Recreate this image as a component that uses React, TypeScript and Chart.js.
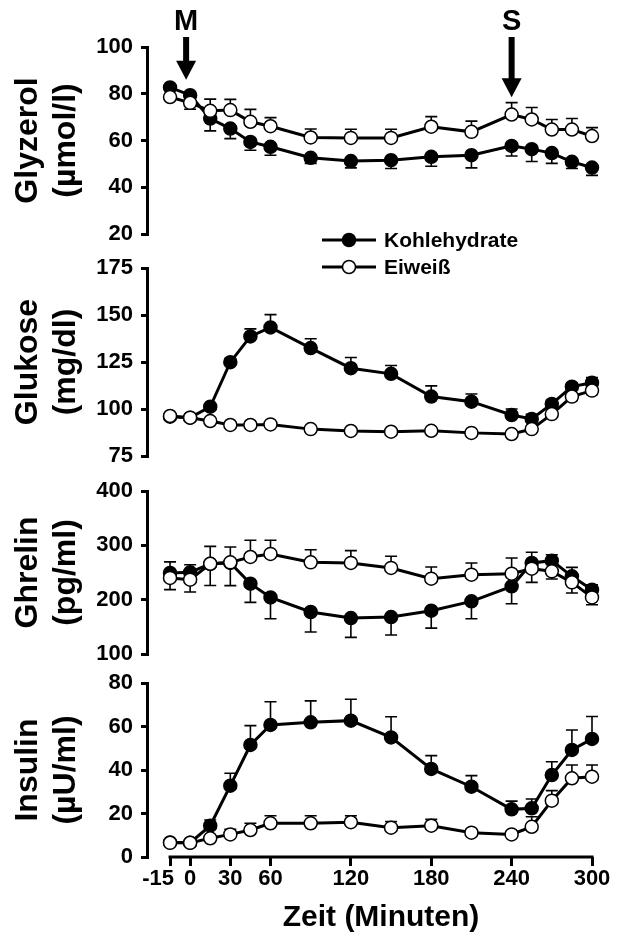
import React, { useEffect, useRef } from 'react';
import { Chart, registerables } from 'chart.js';

Chart.register(...registerables);

const FONT = "'Liberation Sans', Arial, Helvetica, sans-serif";
Chart.defaults.font.family = FONT;

// ---------------- DATA ----------------
const timeMinutes = [-15, 0, 15, 30, 45, 60, 90, 120, 150, 180, 210, 240, 255, 270, 285, 300];
const xTickValues = [-15, 0, 30, 60, 120, 180, 240, 300];
const seriesLabels = ['Kohlehydrate', 'Eiweiß'];
const xAxisTitle = 'Zeit (Minuten)';

// error values (SEM): positive = bar drawn upward, negative = bar drawn downward
const glyzerolKH = [82.7, 79.4, 69.4, 65.1, 59.4, 57.3, 52.6, 51.2, 51.6, 53.0, 53.7, 57.7, 56.3, 54.6, 50.9, 48.4];
const glyzerolKHErr = [0, -1, -5.3, -4.3, -3.6, -3.6, -2.4, -2.9, -3.6, -4, -5.4, -4.3, -5.3, -4.4, -2.9, -3.3];
const glyzerolEW = [78.6, 76.1, 72.7, 73.0, 68.0, 66.1, 61.3, 61.1, 61.1, 65.9, 63.7, 71.1, 69.0, 64.7, 64.7, 61.9];
const glyzerolEWErr = [0, -2.7, 5, 4.6, 5.3, 3.7, 3.6, 3.7, 3.7, 4.3, 4.6, 5.1, 5.1, 4.3, 4.7, 3.6];

const glukoseKH = [95.9, 95.4, 101.2, 124.9, 138.6, 143.4, 132.4, 121.7, 118.7, 106.6, 103.9, 96.8, 94.7, 102.7, 111.9, 114.0];
const glukoseKHErr = [0, 0, 1, 2, 4, 6.8, 5, 5.7, 4.4, 5.7, 4.1, 3.2, 2.5, 2, 2, 2.7];
const glukoseEW = [96.3, 95.4, 93.6, 91.5, 91.5, 91.8, 89.3, 88.3, 87.9, 88.4, 87.3, 86.7, 89.3, 97.3, 106.6, 109.8];
const glukoseEWErr = [-1, -1, -1, -1, -1, -1, -1, -1, -1, -1, -1, -1, -1.5, -1.5, -2, -2];

const ghrelinKH = [249.2, 250.3, 266.0, 267.6, 229.5, 204.2, 177.3, 166.2, 168.0, 179.7, 196.9, 224.5, 267.6, 271.8, 242.9, 218.4];
const ghrelinKHErr = [20.4, 14, -40, -41.8, -34.4, -39.3, -36.8, -35.6, -33.1, -32, -32, -31.9, 19.6, 11, 16.6, 9];
const ghrelinEW = [240.0, 236.8, 266.0, 268.7, 278.6, 284.2, 268.7, 267.6, 258.4, 238.7, 246.0, 247.9, 257.1, 252.1, 231.9, 204.2];
const ghrelinEWErr = [-21.5, -22.7, 32, 28.2, 30.7, 25.2, 23.3, 22.6, 21.5, 21.5, 21.5, 28.8, -25.2, -14, -19.6, -13.5];

const insulinKH = [6.7, 6.6, 14.4, 32.8, 51.5, 60.7, 61.9, 62.7, 55.0, 40.5, 32.3, 21.9, 22.4, 37.7, 49.2, 54.3];
const insulinKHErr = [0.5, 0.5, 2.6, 5.7, 8.9, 10.7, 9.9, 9.8, 9.5, 6.1, 5.1, 3.8, 4.3, 6.1, 9.2, 10.3];
const insulinEW = [6.5, 6.5, 8.6, 10.4, 12.4, 15.5, 15.5, 16.0, 13.5, 14.4, 11.2, 10.4, 13.9, 25.9, 36.2, 36.9];
const insulinEWErr = [0.5, 0.5, 1, 2.3, 3.1, 3.5, 3.5, 3, 2.8, 2.9, 1.5, 1.5, 4.6, 4.6, 6.1, 5.4];

// event arrows in data coordinates of the Glyzerol panel
const eventLabels = ['M', 'S'];
const eventTimes = [-3, 240];
const eventTipValues = [86, 78.5];

// ---------------- LAYOUT ----------------
const W = 619;
const AXIS_X = 147; // y-axis line position
const X_MIN = -32.2;
const X_MAX = 300;
const PAD_RIGHT = 27;
const X_AXIS_H = 83;

type PanelDef = {
  title: string[];
  min: number;
  max: number;
  step: number;
  kh: number[];
  khErr: number[];
  ew: number[];
  ewErr: number[];
  top: number;
  height: number;
  padTop: number;
  padBottom: number;
  showX?: boolean;
  legend?: boolean;
  arrows?: boolean;
};

const panels: PanelDef[] = [
  { title: ['Glyzerol', '(µmol/l)'], min: 20, max: 100, step: 20, kh: glyzerolKH, khErr: glyzerolKHErr, ew: glyzerolEW, ewErr: glyzerolEWErr, top: 0, height: 260, padTop: 47, padBottom: 26, arrows: true },
  { title: ['Glukose', '(mg/dl)'], min: 75, max: 175, step: 25, kh: glukoseKH, khErr: glukoseKHErr, ew: glukoseEW, ewErr: glukoseEWErr, top: 222, height: 260, padTop: 46, padBottom: 26, legend: true },
  { title: ['Ghrelin', '(pg/ml)'], min: 100, max: 400, step: 100, kh: ghrelinKH, khErr: ghrelinKHErr, ew: ghrelinEW, ewErr: ghrelinEWErr, top: 465, height: 215, padTop: 26, padBottom: 26 },
  { title: ['Insulin', '(µU/ml)'], min: 0, max: 80, step: 20, kh: insulinKH, khErr: insulinKHErr, ew: insulinEW, ewErr: insulinEWErr, top: 653, height: 287, padTop: 30, padBottom: 0, showX: true },
];

// ---------------- PLUGINS ----------------
const errorBarsPlugin = {
  id: 'errorBars',
  beforeDatasetsDraw(chart: any, _args: any, opts: any) {
    const ctx = chart.ctx;
    const ys = chart.scales.y;
    const errs: number[][] = opts.errors || [];
    chart.data.datasets.forEach((ds: any, di: number) => {
      const meta = chart.getDatasetMeta(di);
      const e = errs[di];
      if (!e) return;
      ctx.save();
      ctx.strokeStyle = '#000';
      ctx.lineWidth = 1.6;
      meta.data.forEach((pt: any, i: number) => {
        const err = e[i];
        if (!err) return;
        const v = ds.data[i].y;
        const y1 = ys.getPixelForValue(v + err);
        ctx.beginPath();
        ctx.moveTo(pt.x, pt.y);
        ctx.lineTo(pt.x, y1);
        ctx.moveTo(pt.x - 6, y1);
        ctx.lineTo(pt.x + 6, y1);
        ctx.stroke();
      });
      ctx.restore();
    });
  },
};

const xAxisPlugin = {
  id: 'xAxisLine',
  afterDraw(chart: any, _args: any, opts: any) {
    if (!opts.show) return;
    const ctx = chart.ctx;
    const xs = chart.scales.x;
    const x0 = xs.getPixelForValue(xTickValues[0]);
    const x1 = xs.getPixelForValue(xTickValues[xTickValues.length - 1]);
    const y = chart.chartArea.bottom;
    ctx.save();
    ctx.strokeStyle = '#000';
    ctx.lineWidth = 3;
    ctx.beginPath();
    ctx.moveTo(x0 - 1.5, y);
    ctx.lineTo(x1 + 1.5, y);
    ctx.stroke();
    ctx.fillStyle = '#000';
    // tick labels (first one hangs to the left like the original)
    ctx.font = `bold 22px ${FONT}`;
    ctx.textBaseline = 'middle';
    xTickValues.forEach((v, i) => {
      const px = xs.getPixelForValue(v);
      if (i === 0) {
        ctx.textAlign = 'right';
        ctx.fillText(String(v), px + 4, y + 22);
      } else {
        ctx.textAlign = 'center';
        ctx.fillText(String(v), px, y + 22);
      }
    });
    ctx.font = `bold 30px ${FONT}`;
    ctx.textAlign = 'center';
    ctx.fillText(xAxisTitle, (x0 + x1) / 2, y + 61);
    ctx.restore();
  },
};

const legendPlugin = {
  id: 'customLegend',
  afterDraw(chart: any, _args: any, opts: any) {
    if (!opts.show) return;
    const ctx = chart.ctx;
    const ys = [18, 45];
    ctx.save();
    seriesLabels.forEach((lab, i) => {
      const y = ys[i];
      ctx.strokeStyle = '#000';
      ctx.lineWidth = 3;
      ctx.beginPath();
      ctx.moveTo(322, y);
      ctx.lineTo(376, y);
      ctx.stroke();
      ctx.beginPath();
      ctx.arc(349, y, 6.5, 0, Math.PI * 2);
      ctx.fillStyle = i === 0 ? '#000' : '#fff';
      ctx.fill();
      ctx.lineWidth = 1.5;
      ctx.stroke();
      ctx.fillStyle = '#000';
      ctx.font = `bold 21px ${FONT}`;
      ctx.textAlign = 'left';
      ctx.textBaseline = 'middle';
      ctx.fillText(lab, 384, y + 1);
    });
    ctx.restore();
  },
};

const arrowPlugin = {
  id: 'eventArrows',
  afterDraw(chart: any, _args: any, opts: any) {
    if (!opts.show) return;
    const ctx = chart.ctx;
    const xs = chart.scales.x;
    const ys = chart.scales.y;
    ctx.save();
    eventLabels.forEach((lab, i) => {
      const x = xs.getPixelForValue(eventTimes[i]);
      const tip = ys.getPixelForValue(eventTipValues[i]);
      const shaftTop = 37;
      const headH = 19;
      const headW = 10;
      ctx.fillStyle = '#000';
      ctx.fillRect(x - 3, shaftTop, 6, tip - headH - shaftTop + 1);
      ctx.beginPath();
      ctx.moveTo(x - headW, tip - headH);
      ctx.lineTo(x + headW, tip - headH);
      ctx.lineTo(x, tip);
      ctx.closePath();
      ctx.fill();
      ctx.font = `bold 29px ${FONT}`;
      ctx.textAlign = 'center';
      ctx.textBaseline = 'middle';
      ctx.fillText(lab, x, 22);
    });
    ctx.restore();
  },
};

// ---------------- COMPONENTS ----------------
function Panel({ def }: { def: PanelDef }) {
  const ref = useRef<HTMLCanvasElement>(null);
  useEffect(() => {
    const canvas = ref.current;
    if (!canvas) return;
    const mk = (vals: number[]) => vals.map((v, i) => ({ x: timeMinutes[i], y: v }));
    const chart = new Chart(canvas, {
      type: 'line',
      data: {
        datasets: [
          {
            label: seriesLabels[0],
            data: mk(def.kh),
            borderColor: '#000',
            borderWidth: 3,
            pointRadius: 6.5,
            pointBorderWidth: 1.5,
            pointBackgroundColor: '#000',
            pointBorderColor: '#000',
            pointStyle: 'circle',
            clip: false as any,
            order: 1,
            tension: 0,
          },
          {
            label: seriesLabels[1],
            data: mk(def.ew),
            borderColor: '#000',
            borderWidth: 3,
            pointRadius: 6.5,
            pointBorderWidth: 1.5,
            pointBackgroundColor: '#fff',
            pointBorderColor: '#000',
            pointStyle: 'circle',
            clip: false as any,
            order: 0,
            tension: 0,
          },
        ],
      },
      options: {
        responsive: false,
        animation: false,
        events: [],
        layout: { padding: { left: 0, right: PAD_RIGHT, top: def.padTop, bottom: def.padBottom } },
        plugins: {
          legend: { display: false },
          tooltip: { enabled: false },
          errorBars: { errors: [def.khErr, def.ewErr] },
          xAxisLine: { show: !!def.showX },
          customLegend: { show: !!def.legend },
          eventArrows: { show: !!def.arrows },
        } as any,
        scales: {
          x: {
            type: 'linear',
            min: X_MIN,
            max: X_MAX,
            display: !!def.showX,
            afterBuildTicks: (s: any) => {
              s.ticks = xTickValues.map((v) => ({ value: v }));
            },
            afterFit: (s: any) => {
              if (def.showX) s.height = X_AXIS_H;
            },
            grid: { drawOnChartArea: false, drawTicks: true, tickLength: 9, lineWidth: 3, color: '#000' },
            border: { display: false },
            ticks: { display: false, autoSkip: false, maxRotation: 0 },
          },
          y: {
            type: 'linear',
            min: def.min,
            max: def.max,
            afterFit: (s: any) => {
              s.width = AXIS_X;
            },
            ticks: {
              stepSize: def.step,
              autoSkip: false,
              font: { size: 22, weight: 'bold', family: FONT },
              color: '#000',
              padding: 8,
            },
            grid: { drawOnChartArea: false, drawTicks: true, tickLength: 6, lineWidth: 3, color: '#000' },
            border: { display: true, width: 3, color: '#000' },
            title: {
              display: true,
              text: def.title,
              font: { size: 32, weight: 'bold', family: FONT, lineHeight: 1.2 },
              color: '#000',
              padding: { top: 9, bottom: 0 },
            },
          },
        },
      } as any,
      plugins: [errorBarsPlugin, xAxisPlugin, legendPlugin, arrowPlugin],
    });
    return () => chart.destroy();
  }, [def]);
  return (
    <canvas
      ref={ref}
      width={W}
      height={def.height}
      style={{ position: 'absolute', left: 0, top: def.top, width: W, height: def.height }}
    />
  );
}

export default function App() {
  return (
    <div style={{ position: 'absolute', left: 0, top: 0, width: W, height: 940, background: '#fff' }}>
      {panels.map((p, i) => (
        <Panel key={i} def={p} />
      ))}
    </div>
  );
}
